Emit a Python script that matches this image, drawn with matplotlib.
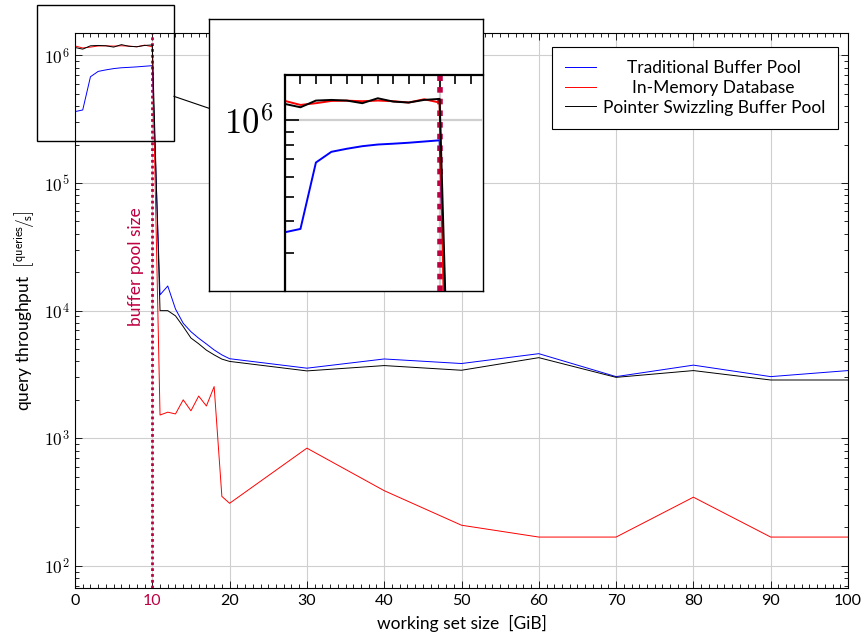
import numpy as np
import matplotlib
matplotlib.use("Agg")
import matplotlib.pyplot as plt
from matplotlib.ticker import MultipleLocator, LogLocator, NullFormatter, FuncFormatter
from matplotlib.lines import Line2D
from matplotlib.patches import Rectangle

plt.rcParams['font.family'] = ['Lato', 'DejaVu Sans']
plt.rcParams['mathtext.fontset'] = 'cm'

# working set sizes in GiB
size_gib = list(range(0, 21)) + [30, 40, 50, 60, 70, 80, 90, 100]

# query throughput in queries/s
traditional = [3.63e5, 3.74e5, 6.81e5, 7.50e5, 7.71e5, 7.89e5, 8.01e5, 8.07e5, 8.14e5, 8.23e5, 8.32e5,
               13300, 15600, 10300, 7960, 6840, 6080, 5480, 4920, 4500, 4200,
               3540, 4180, 3850, 4600, 3040, 3740, 3040, 3390]
in_memory = [1.187e6, 1.145e6, 1.163e6, 1.187e6, 1.19e6, 1.184e6, 1.191e6, 1.184e6, 1.17e6, 1.205e6, 1.17e6,
             1520, 1600, 1550, 2000, 1640, 2140, 1790, 2540, 350, 309,
             836, 388, 208, 168, 168, 345, 168, 168]
swizzling = [1.155e6, 1.121e6, 1.191e6, 1.198e6, 1.191e6, 1.163e6, 1.216e6, 1.18e6, 1.17e6, 1.198e6, 1.209e6,
             10000, 10000, 9100, 7500, 6100, 5500, 4900, 4500, 4170, 4000,
             3370, 3710, 3410, 4280, 3000, 3390, 2860, 2860]

series = [("Traditional Buffer Pool", traditional, "#0000ff"),
          ("In-Memory Database", in_memory, "#ff0000"),
          ("Pointer Swizzling Buffer Pool", swizzling, "black")]

buffer_pool_gib = 10
purple = "#bf0040"

W, H = 865, 642
fig = plt.figure(figsize=(W / 100, H / 100), dpi=100)


def px_box(x0, y0, x1, y1):
    # box given in pixels from the top-left corner -> figure fraction rect
    return [x0 / W, 1 - y1 / H, (x1 - x0) / W, (y1 - y0) / H]


def draw_panel(ax, k=1.0):
    # k scales every stroke and label, so the lens shows a true enlargement
    ax.axvline(buffer_pool_gib, color=purple, lw=2.0 * k, dashes=(1, 1.1), zorder=1.5)
    for label, vals, col in series:
        ax.plot(size_gib, vals, color=col, lw=0.7 * k, label=label, zorder=2)
    ax.set_yscale('log')
    ax.set_xlim(0, 100)
    ax.set_ylim(67, 1.5e6)
    ax.grid(True, which='major', color='#cfcfcf', lw=0.8 * k)
    ax.set_axisbelow(True)
    ax.xaxis.set_major_locator(MultipleLocator(10))
    ax.xaxis.set_minor_locator(MultipleLocator(1))
    ax.yaxis.set_major_locator(LogLocator(base=10))
    ax.yaxis.set_minor_locator(LogLocator(base=10, subs=np.arange(2, 10)))
    ax.yaxis.set_minor_formatter(NullFormatter())
    ax.yaxis.set_major_formatter(FuncFormatter(lambda v, _: r'$10^{%d}$' % round(np.log10(v))))
    ax.tick_params(which='both', direction='in', top=True, right=True, width=0.6 * k, colors='black')
    ax.tick_params(which='major', length=5 * k, pad=4 * k)
    ax.tick_params(which='minor', length=3.2 * k)
    ax.tick_params(axis='y', labelsize=12.5 * k)
    ax.tick_params(axis='x', labelsize=11.5 * k)
    for sp in ax.spines.values():
        sp.set_linewidth(0.8 * k)


ax = fig.add_axes(px_box(75, 33, 848, 588))
draw_panel(ax)
ax.set_xticks(np.arange(0, 101, 10))
ax.get_xticklabels()[1].set_color(purple)
ax.set_xlabel("working set size  [GiB]", fontsize=12.5, labelpad=5)
ax.set_ylabel(r"query throughput  $\left[{}^{\mathsf{queries}}\!/\!{}_{\mathsf{s}}\right]$",
              fontsize=12.5, labelpad=4)
ax.text(8.9, 2.2e4, "buffer pool size", color=purple, rotation=90,
        ha='right', va='center', fontsize=12.5)

leg = ax.legend(loc='upper right', bbox_to_anchor=(0.987, 0.975), fontsize=12.5,
                fancybox=False, framealpha=1, edgecolor='black', handlelength=1.8,
                handletextpad=0.35, borderaxespad=0, labelspacing=0.22, borderpad=0.75)
leg.get_frame().set_linewidth(0.8)

# center the entry texts inside the legend column
renderer = fig.canvas.get_renderer()
widths = [t.get_window_extent(renderer).width for t in leg.get_texts()]
rows = leg._legend_handle_box.get_children()[0].get_children()
for row, w in zip(rows, widths):
    row.sep += (max(widths) - w) / 2 / (fig.dpi / 72)

# spy lens: source box in pixels, enlarged copy around another center
src = (37, 5, 174, 141)
mag = 2.0
dst_c = (346, 155)
src_c = ((src[0] + src[2]) / 2, (src[1] + src[3]) / 2)
hw, hh = (src[2] - src[0]) / 2, (src[3] - src[1]) / 2
dst = (dst_c[0] - mag * hw, dst_c[1] - mag * hh, dst_c[0] + mag * hw, dst_c[1] + mag * hh)


def to_dst(x, y):
    return dst_c[0] + mag * (x - src_c[0]), dst_c[1] + mag * (y - src_c[1])


# part of the lens that falls inside the main axes
ax_px = (75, 33, 848, 588)
ix0, iy0 = max(src[0], ax_px[0]), max(src[1], ax_px[1])
ix1, iy1 = min(src[2], ax_px[2]), min(src[3], ax_px[3])
inv = ax.transData.inverted()
(xa, ya) = inv.transform((ix0, H - iy1))
(xb, yb) = inv.transform((ix1, H - iy0))

lens = fig.add_axes(px_box(*dst), zorder=3)
lens.set_facecolor('white')
lens.set_xticks([])
lens.set_yticks([])
for sp in lens.spines.values():
    sp.set_linewidth(1.0)

zx0, zy0 = to_dst(ix0, iy0)
zx1, zy1 = to_dst(ix1, iy1)
zoom = fig.add_axes(px_box(zx0, zy0, zx1, zy1), zorder=4)
zoom.set_facecolor('none')
draw_panel(zoom, k=mag)
zoom.set_xlim(xa, xb)
zoom.set_ylim(ya, yb)
zoom.spines['right'].set_visible(False)
zoom.spines['bottom'].set_visible(False)
zoom.tick_params(which='both', bottom=False, right=False, labelbottom=False)

fig.patches.append(Rectangle((src[0] / W, 1 - src[3] / H), 2 * hw / W, 2 * hh / H,
                             transform=fig.transFigure, fill=False, ec='black', lw=1.0, zorder=5))

# connector between the two boxes along the line joining their centers
dx, dy = dst_c[0] - src_c[0], dst_c[1] - src_c[1]
t0 = min(hw / abs(dx), hh / abs(dy))
t1 = 1 - min(mag * hw / abs(dx), mag * hh / abs(dy))
p0 = (src_c[0] + t0 * dx, src_c[1] + t0 * dy)
p1 = (src_c[0] + t1 * dx, src_c[1] + t1 * dy)
fig.lines.append(Line2D([p0[0] / W, p1[0] / W], [1 - p0[1] / H, 1 - p1[1] / H],
                        transform=fig.transFigure, color='black', lw=0.8, zorder=5))

fig.savefig("out.png", dpi=100)
